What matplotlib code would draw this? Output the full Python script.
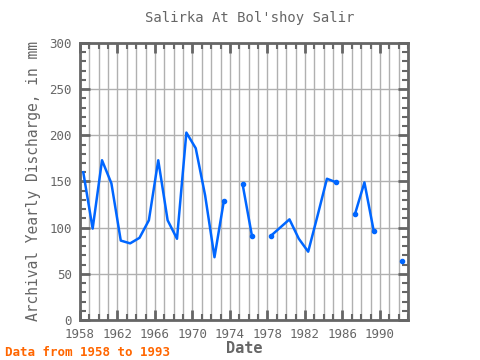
import numpy as np
import matplotlib
matplotlib.use("Agg")
import matplotlib.pyplot as plt
from matplotlib.ticker import MultipleLocator

# yearly discharge, gaps are missing years
years = np.arange(1958, 1993)
discharge = [160, 99, 173, 148, 86, 83, 89, 108, 173, 108, 88, 203, 186, 135, 68, 129,
             np.nan, 147, 91, np.nan, 91, 100, 109, 88, 74, 113, 153, 149, np.nan,
             115, 149, 96, np.nan, np.nan, 64]
x_labels = [1958, 1962, 1966, 1970, 1974, 1978, 1982, 1986, 1990]

plt.rcParams['font.family'] = ['DejaVu Sans Mono']
fig = plt.figure(figsize=(4.8, 3.6), dpi=100)
ax = fig.add_axes([80 / 480, 1 - 320 / 360, 328 / 480, 277 / 360])

dates = years + 0.35
vals = np.array(discharge, dtype=float)
ax.plot(dates, vals, color='#0066ff', lw=1.8, zorder=3)

# markers only where a run of data starts or stops
prev_nan = np.r_[True, np.isnan(vals[:-1])]
next_nan = np.r_[np.isnan(vals[1:]), True]
ends = ~np.isnan(vals) & (prev_nan | next_nan)
ends[0] = False
ax.plot(dates[ends], vals[ends], 'o', color='#0066ff', ms=3, zorder=4)

ax.set_xlim(1958, 1993)
ax.set_ylim(0, 300)
ax.set_xticks(x_labels)
ax.xaxis.set_minor_locator(MultipleLocator(1))
ax.yaxis.set_major_locator(MultipleLocator(50))
ax.yaxis.set_minor_locator(MultipleLocator(10))
ax.grid(True, which='major', axis='y', color='#b0b0b0', lw=1)
ax.grid(True, which='both', axis='x', color='#b0b0b0', lw=1)
ax.set_axisbelow(True)

for s in ax.spines.values():
    s.set_color('#666666')
    s.set_linewidth(2)
ax.tick_params(which='both', direction='in', top=True, right=True, color='#666666',
               labelcolor='#666666', labelsize=9)
ax.tick_params(which='major', length=7, width=2)
ax.tick_params(axis='y', which='major', pad=6)
ax.tick_params(axis='x', which='major', pad=6)
ax.tick_params(which='minor', length=4, width=1.5)

ax.set_xlabel('Date', color='#666666', fontsize=11, fontweight='bold', labelpad=0)
ax.set_ylabel('Archival Yearly Discharge, in mm', color='#666666', fontsize=10.5, labelpad=6)
fig.text(0.52, 1 - 18 / 360, "Salirka At Bol'shoy Salir", color='#666666', fontsize=10,
         ha='center', va='center')
fig.text(5 / 480, 1 - 352 / 360, 'Data from 1958 to 1993', color='#ff6600', fontsize=9,
         fontweight='bold', ha='left', va='center')

fig.savefig('out.png', dpi=100)
